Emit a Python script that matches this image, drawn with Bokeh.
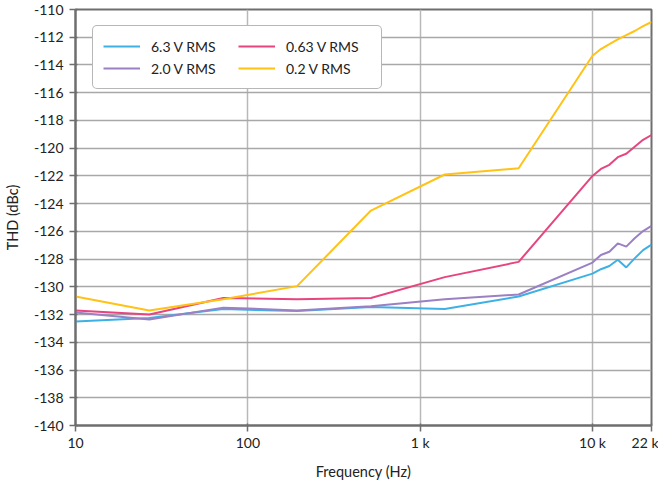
from bokeh.plotting import figure
from bokeh.models import Range1d, FixedTicker, Legend, LegendItem
from bokeh.embed import file_html
from bokeh.resources import INLINE

freq = [10, 26.8, 72, 193, 518, 1389, 3728, 10000, 11190, 12530, 14020, 15700, 17570, 19660, 22000]
thd_63 = [-132.5, -132.25, -131.6, -131.75, -131.45, -131.6, -130.7, -129.05, -128.73, -128.5, -128.05, -128.6, -127.95, -127.35, -126.95]
thd_20 = [-131.85, -132.35, -131.5, -131.7, -131.4, -130.9, -130.55, -128.25, -127.7, -127.47, -126.87, -127.1, -126.5, -125.98, -125.6]
thd_063 = [-131.7, -132.0, -130.8, -130.9, -130.8, -129.3, -128.2, -122.0, -121.5, -121.2, -120.65, -120.4, -119.9, -119.4, -119.05]
thd_02 = [-130.7, -131.7, -130.9, -129.95, -124.5, -121.9, -121.45, -113.33, -112.85, -112.5, -112.15, -111.85, -111.55, -111.2, -110.9]

series_names = ["6.3 V RMS", "2.0 V RMS", "0.63 V RMS", "0.2 V RMS"]
series_colors = ["#3db1e6", "#9b80c4", "#e6457f", "#ffc215"]

x_ticks = [10, 100, 1000, 10000, 22000]
x_tick_labels = ["10", "100", "1 k", "10 k", "22 k"]
y_ticks = list(range(-140, -109, 2))
y_tick_labels = ["-%d" % (-t) for t in y_ticks]

FONT = "Lato"

p = figure(frame_width=576, frame_height=416, x_axis_type="log", output_backend="svg",
           toolbar_location=None, x_range=Range1d(10, 22000), y_range=Range1d(-140, -110),
           min_border_left=67, min_border_right=7, min_border_top=9, min_border_bottom=46)
p.outline_line_color = "#6e6e6e"
p.outline_line_width = 2

renderers = []
for ys, c in zip([thd_63, thd_20, thd_063, thd_02], series_colors):
    r = p.line(freq, ys, line_color=c, line_width=2)
    renderers.append(r)

p.xaxis.ticker = FixedTicker(ticks=x_ticks)
p.xaxis.major_label_overrides = {t: l for t, l in zip(x_ticks, x_tick_labels)}
p.yaxis.ticker = FixedTicker(ticks=y_ticks)
p.yaxis.major_label_overrides = {t: l for t, l in zip(y_ticks, y_tick_labels)}

for ax in [p.xaxis[0], p.yaxis[0]]:
    ax.axis_line_color = "#6e6e6e"
    ax.axis_line_width = 2
    ax.major_tick_line_color = "#6e6e6e"
    ax.major_tick_line_width = 1.5
    ax.major_tick_out = 6
    ax.major_tick_in = 2
    ax.minor_tick_line_color = None
    ax.major_label_text_font = FONT
    ax.major_label_text_font_size = "14px"
    ax.major_label_text_color = "#222222"
    ax.axis_label_text_font = FONT
    ax.axis_label_text_font_size = "14.5px"
    ax.axis_label_text_font_style = "normal"
    ax.axis_label_text_color = "#222222"

p.xaxis.axis_label = "Frequency (Hz)"
p.yaxis.axis_label = "THD (dBc)"
p.xaxis.major_label_standoff = 2
p.yaxis.major_label_standoff = 6
p.xaxis.axis_label_standoff = 9
p.yaxis.axis_label_standoff = 10

p.xgrid.grid_line_color = "#b8b8b8"
p.xgrid.grid_line_width = 1.5
p.ygrid.grid_line_color = "#a8a8a8"
p.ygrid.grid_line_width = 1.5
p.xgrid.ticker = FixedTicker(ticks=x_ticks)
p.ygrid.ticker = FixedTicker(ticks=y_ticks)

items = [LegendItem(label=n, renderers=[r]) for n, r in zip(series_names, renderers)]
legend = Legend(items=items, ncols=2, location=(17, 336))
legend.padding = 10
legend.spacing = 2
legend.glyph_width = 37
legend.glyph_height = 20
legend.label_height = 20
legend.label_standoff = 11
legend.label_width = 85
legend.label_text_font = FONT
legend.label_text_font_size = "14px"
legend.label_text_color = "#222222"
legend.border_line_color = "#707070"
legend.border_line_width = 1.5
legend.background_fill_color = "white"
legend.background_fill_alpha = 1
if "border_radius" in Legend.properties():
    legend.border_radius = 5
p.add_layout(legend, "center")

open("out.html", "w").write(file_html(p, INLINE))
